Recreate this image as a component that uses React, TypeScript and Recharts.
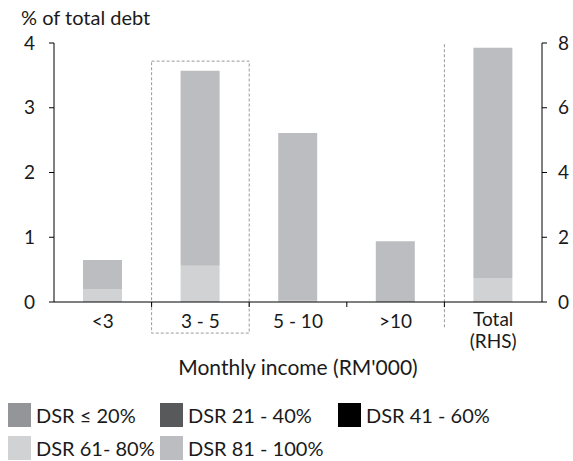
import { BarChart, Bar, XAxis, YAxis, Legend, ReferenceArea, ReferenceLine } from "recharts";

const categories = ["<3", "3 - 5", "5 - 10", ">10", "Total"];
const rhsCategory = "Total";
const seriesNames = ["DSR \u2264 20%", "DSR 21 - 40%", "DSR 41 - 60%", "DSR 61- 80%", "DSR 81 - 100%"];
const seriesColors = ["#939598", "#58595b", "#000000", "#d1d2d4", "#bcbdc0"];

// values per category, the last one (Total) is read against the right axis
const dsr20 = [0, 0, 0, 0, 0];
const dsr40 = [0, 0, 0, 0, 0];
const dsr60 = [0, 0, 0, 0, 0];
const dsr80 = [0.2, 0.56, 0.02, 0, 0.74];
const dsr100 = [0.45, 3.01, 2.59, 0.94, 7.11];
const seriesValues = [dsr20, dsr40, dsr60, dsr80, dsr100];

const leftTicks = [0, 1, 2, 3, 4];
const rightTicks = [0, 2, 4, 6, 8];

const FONT = "Lato, 'Open Sans', sans-serif";
const TEXT = "#1a1a1a";

const data = categories.map((category, i) => {
  const row: Record<string, string | number | null> = { category };
  seriesValues.forEach((vals, s) => {
    const isRhs = category === rhsCategory;
    row[`l${s}`] = isRhs ? null : vals[i];
    row[`r${s}`] = isRhs ? vals[i] : null;
  });
  return row;
});

function CategoryTick(props: any) {
  const { x, y, payload, index } = props;
  const half = payload.offset ?? 0;
  const label = payload.value === rhsCategory ? ["Total", "(RHS)"] : [payload.value];
  return (
    <g>
      {index > 0 && <line x1={x - half} x2={x - half} y1={y} y2={y + 5} stroke="#000" strokeWidth={1} />}
      {label.map((t: string, k: number) => (
        <text
          key={k}
          x={x}
          y={y + (label.length > 1 ? 24 : 26) + k * 22}
          textAnchor="middle"
          fontSize={19}
          fontFamily={FONT}
          fill={TEXT}
        >
          {t}
        </text>
      ))}
    </g>
  );
}

const legendWidths = [152, 178, 178];

function LegendContent() {
  return (
    <div style={{ height: 63, paddingTop: 5, boxSizing: "border-box", paddingLeft: 8, display: "flex", flexWrap: "wrap", width: 573, rowGap: 9, alignContent: "flex-start" }}>
      {seriesNames.map((name, i) => (
        <div key={name} style={{ width: legendWidths[i % 3], display: "flex", alignItems: "center", height: 24 }}>
          <span style={{ width: 23, height: 24, background: seriesColors[i], display: "inline-block", marginRight: 5, flexShrink: 0 }} />
          <span style={{ fontSize: 20, fontFamily: FONT, color: TEXT, whiteSpace: "nowrap" }}>{name}</span>
        </div>
      ))}
    </div>
  );
}

export default function App() {
  return (
    <div style={{ position: "fixed", left: 0, top: 0, width: 573, height: 461, background: "#fff" }}>
      <div style={{ position: "absolute", left: 21, top: 5, fontSize: 20, fontFamily: FONT, color: TEXT }}>% of total debt</div>
      <BarChart width={573} height={461} data={data} margin={{ top: 43, right: 0, left: 0, bottom: 0 }} barSize={39}>
        <XAxis
          dataKey="category"
          height={96}
          axisLine={{ stroke: "#000" }}
          tickLine={false}
          tickSize={0}
          tickMargin={0}
          interval={0}
          tick={<CategoryTick />}
          label={{ value: "Monthly income (RM'000)", position: "insideTop", offset: 58, fontSize: 21, fontFamily: FONT, fill: TEXT }}
        />
        <YAxis
          yAxisId="left"
          width={54}
          domain={[0, 4]}
          ticks={leftTicks}
          axisLine={{ stroke: "#000" }}
          tickLine={{ stroke: "#000" }}
          tickSize={5}
          tickMargin={14}
          tick={{ fontSize: 19, fontFamily: FONT, fill: TEXT }}
        />
        <YAxis
          yAxisId="right"
          orientation="right"
          width={31}
          domain={[0, 8]}
          ticks={rightTicks}
          axisLine={{ stroke: "#000" }}
          tickLine={{ stroke: "#000" }}
          tickSize={5}
          tickMargin={11}
          tick={{ fontSize: 19, fontFamily: FONT, fill: TEXT }}
        />
        <ReferenceArea
          yAxisId="left"
          x1="3 - 5"
          x2="3 - 5"
          y1={-0.48}
          y2={3.72}
          ifOverflow="visible"
          fill="none"
          fillOpacity={0}
          stroke="#9a9a9a"
          strokeDasharray="3 2"
        />
        <ReferenceLine
          yAxisId="left"
          segment={[
            { x: rhsCategory, y: -0.39 },
            { x: rhsCategory, y: 4 },
          ]}
          position="start"
          ifOverflow="visible"
          stroke="#9a9a9a"
          strokeDasharray="3 2"
        />
        {seriesNames.map((name, s) => (
          <Bar key={`l${s}`} dataKey={`l${s}`} name={name} yAxisId="left" stackId="a" fill={seriesColors[s]} isAnimationActive={false} />
        ))}
        {seriesNames.map((name, s) => (
          <Bar key={`r${s}`} dataKey={`r${s}`} name={name} yAxisId="right" stackId="a" fill={seriesColors[s]} legendType="none" isAnimationActive={false} />
        ))}
        <Legend verticalAlign="bottom" wrapperStyle={{ left: 0, width: 573 }} content={<LegendContent />} />
      </BarChart>
    </div>
  );
}
